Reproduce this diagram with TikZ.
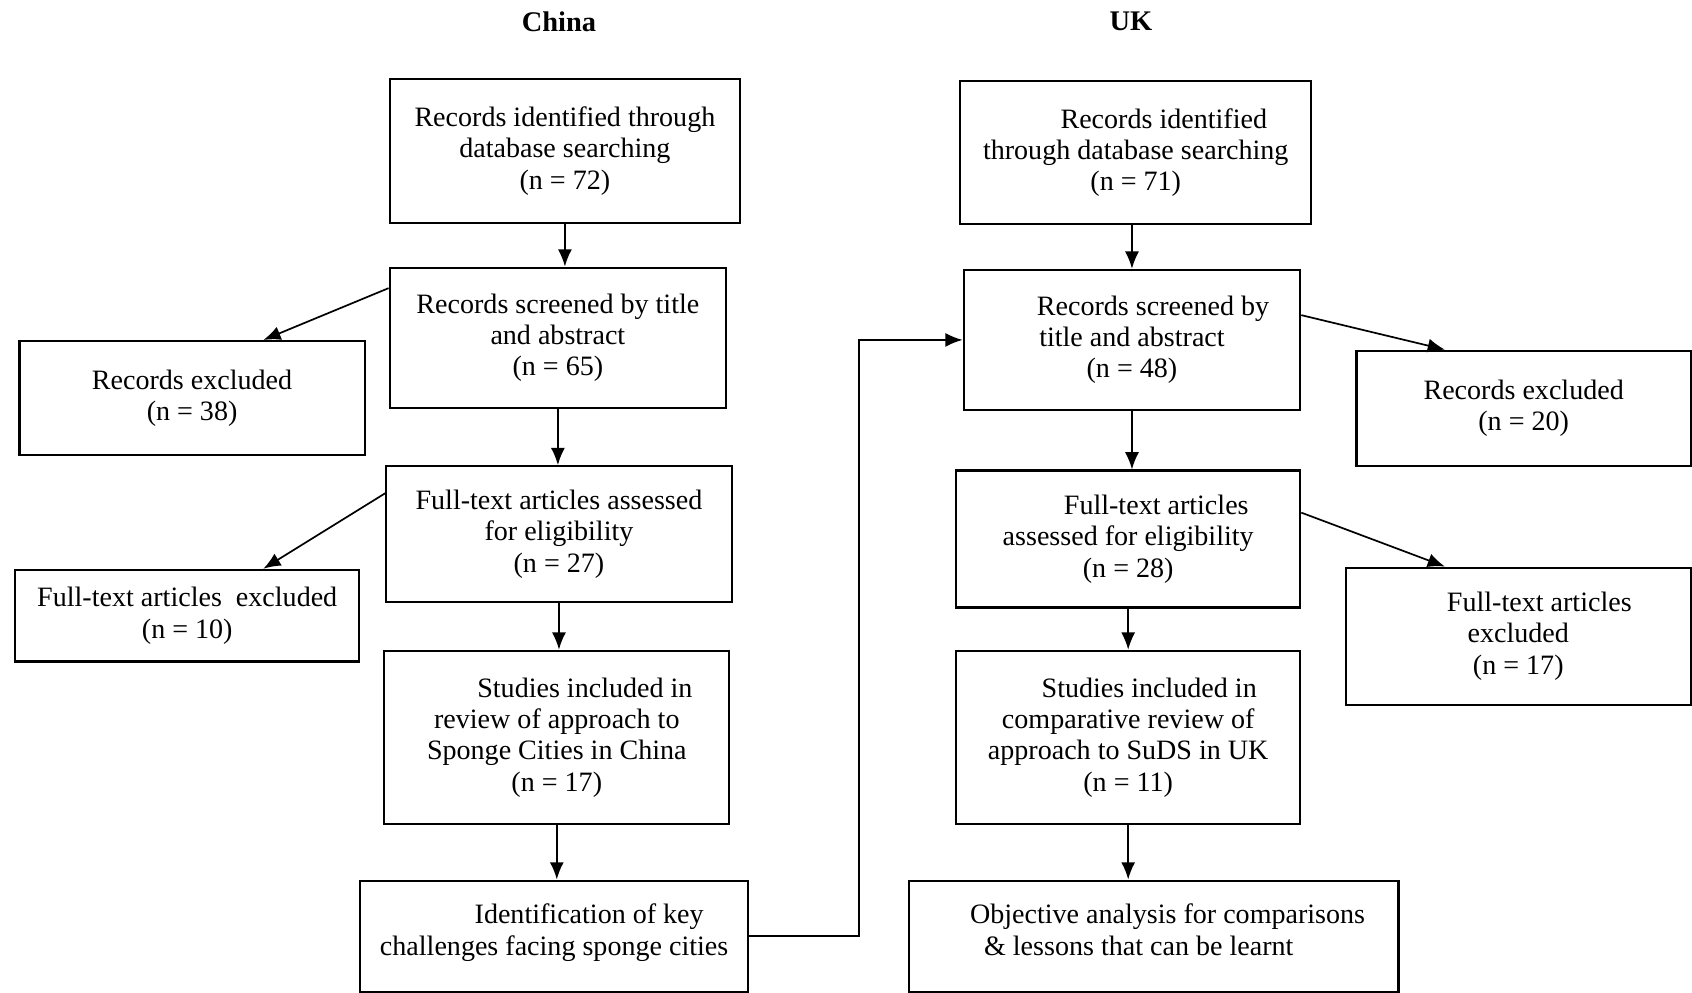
\documentclass[tikz,border=0pt]{standalone}
\usepackage{fontspec}
\setmainfont{Liberation Serif}
\usetikzlibrary{arrows.meta,calc}

\begin{document}
\begin{tikzpicture}[x=0.02cm,y=-0.02cm,
  box/.style={draw,line width=1.1pt,align=center,inner sep=2pt,font=\fontsize{14.8}{16.5}\selectfont},
  ttl/.style={font=\fontsize{15}{18}\selectfont\bfseries},
  arr/.style={line width=0.9pt,-{Latex[length=0.32cm,width=0.26cm]}}]
\useasboundingbox (0,0) rectangle (1568,920);

% titles
\node[ttl] (ttlchina) at (518,20) {China};
\node[ttl] (ttluk) at (1048,20) {UK};

% China
\node[box,minimum width=6.5cm,minimum height=2.68cm] (c1) at (523.5,140)
  {Records identified through\\database searching\\(n = 72)};
\node[box,minimum width=6.24cm,minimum height=2.6cm] (c2) at (517,313)
  {Records screened by title\\and abstract\\(n = 65)};
\node[box,minimum width=6.4cm,minimum height=2.12cm] (cx1) at (178,369)
  {Records excluded\\(n = 38)};
\node[box,minimum width=6.4cm,minimum height=2.52cm] (c3) at (518,495)
  {Full-text articles assessed\\for eligibility\\(n = 27)};
\node[box,minimum width=6.38cm,minimum height=1.7cm] (cx2) at (173.5,570.5)
  {Full-text articles \ excluded\\(n = 10)};
\node[box,minimum width=6.4cm,minimum height=3.22cm] (c4) at (516,683.5)
  {\hspace{2em}Studies included in\\review of approach to\\Sponge Cities in China\\(n = 17)};
\node[box,minimum width=7.18cm,minimum height=2.06cm] (c5) at (513.5,867.5)
  {\hspace{2.5em}Identification of key\\challenges facing sponge cities\\[-9.5pt]};

% UK
\node[box,minimum width=6.5cm,minimum height=2.66cm] (u1) at (1052.5,141.5)
  {\hspace{2em}Records identified\\through database searching\\(n = 71)};
\node[box,minimum width=6.24cm,minimum height=2.6cm] (u2) at (1049,315)
  {\hspace{1.5em}Records screened by\\title and abstract\\(n = 48)};
\node[box,minimum width=6.2cm,minimum height=2.14cm] (ux1) at (1412,378.5)
  {Records excluded\\(n = 20)};
\node[box,minimum width=6.38cm,minimum height=2.54cm] (u3) at (1045.5,499.5)
  {\hspace{2em}Full-text articles\\assessed for eligibility\\(n = 28)};
\node[box,minimum width=6.4cm,minimum height=2.54cm] (ux2) at (1407,589.5)
  {\hspace{1.5em}Full-text articles\\excluded\\(n = 17)};
\node[box,minimum width=6.38cm,minimum height=3.22cm] (u4) at (1045.5,683.5)
  {\hspace{1.5em}Studies included in\\comparative review of\\approach to SuDS in UK\\(n = 11)};
\node[box,minimum width=9.08cm,minimum height=2.06cm,align=left] (u5) at (1069,867.5)
  {\hspace{1em}Objective analysis for comparisons\\\hspace{1.5em}\& lessons that can be learnt\\[-9.5pt]};

% arrows
\draw[arr] (c1.south) -- (c1.south |- c2.north);
\draw[arr] (c2.south) -- (c2.south |- c3.north);
\draw[arr] (c3.south) -- (c3.south |- c4.north);
\draw[arr] (c4.south) -- (c4.south |- c5.north);
\draw[arr] ($(c2.north west)+(0,20)$) -- ($(cx1.north west)+(227,0)$);
\draw[arr] ($(c3.north west)+(0,26)$) -- ($(cx2.north west)+(231,0)$);
\draw[arr] (c5.east) -- ++(102,0) |- (u2.west);

\draw[arr] (u2.north |- u1.south) -- (u2.north);
\draw[arr] (u2.south) -- (u2.south |- u3.north);
\draw[arr] (u3.south) -- (u3.south |- u4.north);
\draw[arr] (u4.south) -- (u4.south |- u5.north);
\draw[arr] ($(u2.north east)+(0,43)$) -- ($(ux1.north west)+(83,0)$);
\draw[arr] ($(u3.north east)+(0,40)$) -- ($(ux2.north west)+(93,0)$);
\end{tikzpicture}
\end{document}
